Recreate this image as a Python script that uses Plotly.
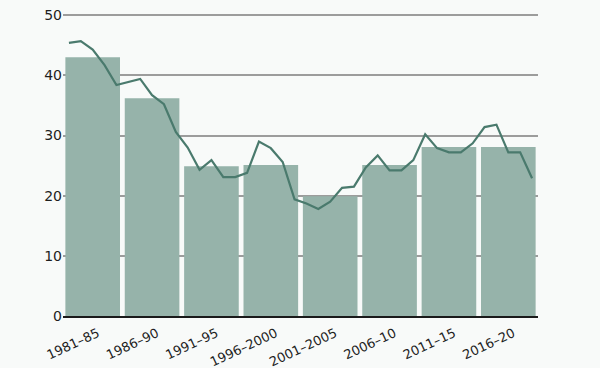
import plotly.graph_objects as go

# Period categories (bars) and their values
periods = ["1981–85", "1986–90", "1991–95", "1996–2000", "2001–2005", "2006–10", "2011–15", "2016–20"]
period_start = [1981, 1986, 1991, 1996, 2001, 2006, 2011, 2016]
period_values = [43.0, 36.2, 24.9, 25.1, 19.9, 25.1, 28.1, 28.1]

# Annual series (line)
years = list(range(1981, 2021))
annual_values = [
    45.4, 45.7, 44.3, 41.7, 38.4, 38.9, 39.4, 36.7, 35.2, 30.6,
    28.0, 24.3, 25.9, 23.1, 23.1, 23.8, 29.0, 27.9, 25.6, 19.4,
    18.7, 17.8, 19.0, 21.3, 21.5, 24.7, 26.7, 24.2, 24.2, 25.9,
    30.2, 27.9, 27.2, 27.2, 28.7, 31.4, 31.8, 27.2, 27.2, 22.9,
]

y_ticks = [0, 10, 20, 30, 40, 50]

bar_centers = [s + 2 for s in period_start]

fig = go.Figure()
fig.add_trace(go.Bar(
    x=bar_centers, y=period_values, width=4.6,
    marker=dict(color="#96b3aa", line=dict(width=0)),
    hoverinfo="skip",
))
fig.add_trace(go.Scatter(
    x=years, y=annual_values, mode="lines",
    line=dict(color="#4a7a6d", width=2.2),
    hoverinfo="skip",
))

fig.update_layout(
    width=600, height=368,
    margin=dict(l=63, r=62, t=14, b=52),
    paper_bgcolor="#f8faf9", plot_bgcolor="#f8faf9",
    showlegend=False,
    font=dict(family="DejaVu Sans", color="#1e1e1e"),
)
fig.update_xaxes(
    range=[1980.5, 2020.5], automargin=False,
    tickvals=bar_centers, ticktext=periods,
    tickangle=-25, tickfont=dict(size=13),
    ticklabelshift=5, ticklabelstandoff=3,
    showgrid=False, zeroline=False,
    showline=True, linecolor="#1a1a1a", linewidth=2,
    ticks="", ticklen=0,
)
fig.update_yaxes(
    range=[0, 50.2], tickvals=y_ticks, automargin=False,
    tickfont=dict(size=14),
    showgrid=True, gridcolor="#9c9c9c", gridwidth=1.6,
    zeroline=False, showline=False, ticks="",
)

fig.write_html(
    "out.html",
    config={"displayModeBar": False},
    post_script="document.body.style.margin='0';document.body.style.background='#f8faf9';",
)
